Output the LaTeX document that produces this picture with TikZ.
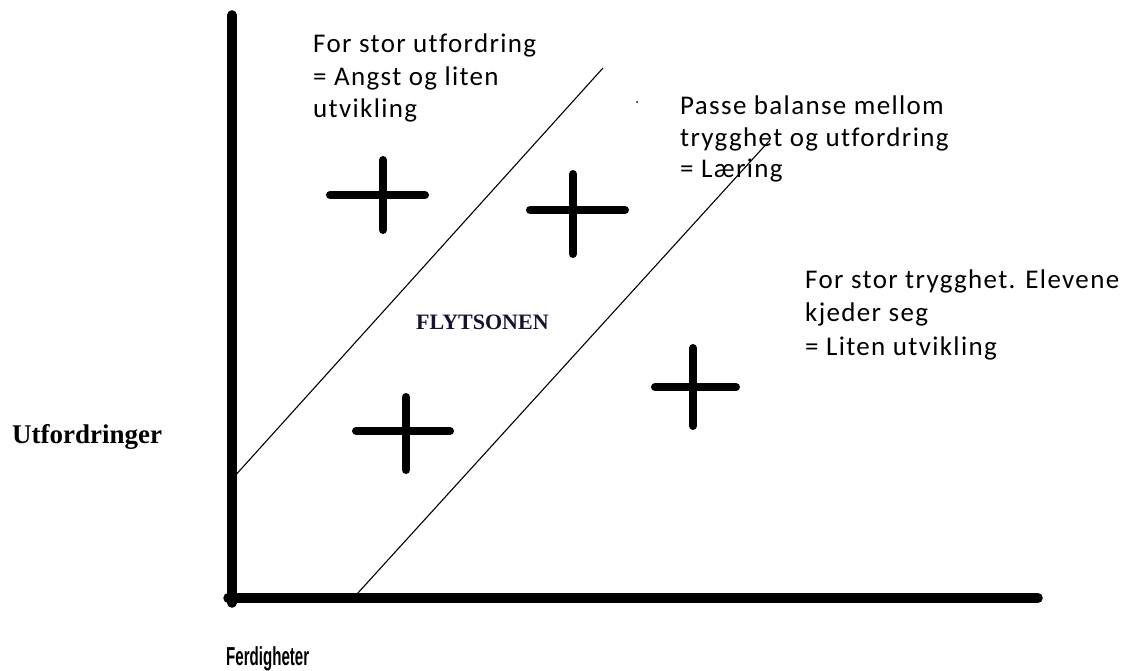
\documentclass[tikz,border=0pt]{standalone}
\usepackage{fontspec}
\setmainfont{Liberation Serif}
\newfontfamily\calfont{Carlito}[LetterSpace=5, Ligatures={NoCommon}]
\newfontfamily\serfont{Liberation Serif}
\newfontfamily\sansfontb{Liberation Sans}
\definecolor{navy}{HTML}{141432}
\tikzset{
  lbl/.style={anchor=base west, inner sep=0pt, font=\calfont\fontsize{27}{32}\selectfont},
  axis/.style={line width=9.5pt, line cap=round},
  diag/.style={line width=1.1pt},
  plusbar/.style={line width=8pt, line cap=round},
}
\begin{document}
\begin{tikzpicture}[x=1pt,y=-1pt]
\useasboundingbox (0,0) rectangle (1127,671);
\fill[white] (0,0) rectangle (1127,671);
% axes
\coordinate (o) at (232,598);
\coordinate (ytop) at (232,15);
\coordinate (xend) at (1038,598);
\draw[axis] (ytop) -- (232,603);
\draw[axis] (228,598) -- (xend);
% diagonal lines
\coordinate (d1a) at (233,478);
\coordinate (d1b) at (603,68);
\coordinate (d2a) at (357,594);
\coordinate (d2b) at (770,140);
\draw[diag] (d1a) -- (d1b);
\draw[diag] (d2a) -- (d2b);
% plus signs
\draw[plusbar] (330,195) -- (425,195) (383,160) -- (383,230);
\draw[plusbar] (530,210) -- (625,210) (573,174) -- (573,254);
\draw[plusbar] (356,431) -- (450,431) (406,397) -- (406,470);
\draw[plusbar] (655,387) -- (736,387) (693,348) -- (693,426);
% dot
\fill (637,102) circle (1pt);
% texts
\node[lbl] (a1) at (313,53) {For stor utfordring};
\node[lbl] (a2) at (313,86) {= Angst og liten};
\node[lbl] (a3) at (313,118) {utvikling};
\node[lbl] (b1) at (680,115) {Passe balanse mellom};
\node[lbl] (b2) at (680,147) {trygghet og utfordring};
\node[lbl] (b3) at (680,178) {= Læring};
\node[lbl] (c1) at (805,288) {For stor trygghet. Elevene};
\node[lbl] (c2) at (805,321) {kjeder seg};
\node[lbl] (c3) at (805,355) {= Liten utvikling};
\node[anchor=base west, inner sep=0pt, text=navy, font=\serfont\bfseries\fontsize{22}{26}\selectfont] (fly) at (416,329) {FLYTSONEN};
\node[anchor=base west, inner sep=0pt, font=\serfont\bfseries\fontsize{27}{32}\selectfont] (yl) at (12,443) {Utfordringer};
\node[anchor=base west, inner sep=0pt, font=\sansfontb\bfseries\fontsize{26}{30}\selectfont] (xl) at (226,665) {\scalebox{0.58}[1]{Ferdigheter}};
\end{tikzpicture}
\end{document}
